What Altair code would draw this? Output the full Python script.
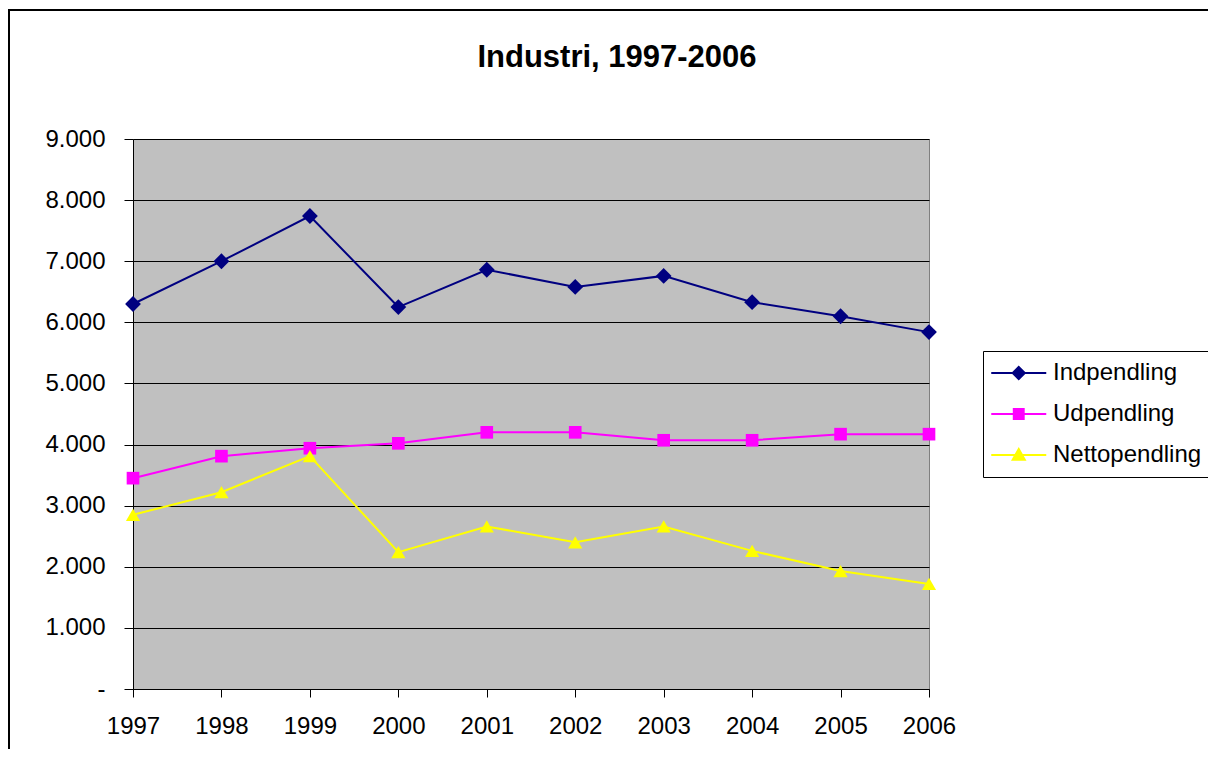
import altair as alt
import pandas as pd

years = ["1997", "1998", "1999", "2000", "2001", "2002", "2003", "2004", "2005", "2006"]
series_names = ["Indpendling", "Udpendling", "Nettopendling"]
indpendling = [6300, 7000, 7740, 6250, 6860, 6580, 6760, 6330, 6100, 5840]
udpendling = [3450, 3810, 3940, 4020, 4200, 4200, 4070, 4070, 4170, 4170]
nettopendling = [2850, 3220, 3810, 2240, 2660, 2400, 2660, 2260, 1930, 1720]
y_ticks = [0, 1000, 2000, 3000, 4000, 5000, 6000, 7000, 8000, 9000]

colors = ["#000080", "#FF00FF", "#FFFF00"]
shapes = ["diamond", "square", "triangle-up"]
marker_sizes = [250, 160, 200]
# legend symbols: a line segment with a marker on it
legend_paths = [
    "M-2.5,0H7.5M2.5,-1.1L3.6,0L2.5,1.1L1.4,0Z",
    "M-2.5,0H7.5M1.6,-0.9H3.4V0.9H1.6Z",
    "M-2.5,0H7.5M2.5,-1.1L3.6,0.85H1.4Z",
]

rows = []
for name, vals in zip(series_names, [indpendling, udpendling, nettopendling]):
    for yr, v in zip(years, vals):
        rows.append({"year": yr, "series": name, "value": v})
df = pd.DataFrame(rows)

FONT = "Liberation Sans"

x_enc = alt.X(
    "year:O",
    sort=years,
    scale=alt.Scale(type="point", padding=0),
    axis=alt.Axis(title=None, labelAngle=0, tickSize=8, labelPadding=17,
                  domainColor="black", tickColor="black", grid=False,
                  labelFont=FONT, labelFontSize=24, labelColor="black"),
)
y_enc = alt.Y(
    "value:Q",
    scale=alt.Scale(domain=[0, 9000], nice=False),
    axis=alt.Axis(
        title=None, values=y_ticks, tickSize=9, labelPadding=19,
        labelExpr="datum.value == 0 ? '-\u00a0\u00a0\u00a0' : replace(format(datum.value, ','), ',', '.')",
        grid=True, gridColor="black", gridWidth=1, gridOpacity=1,
        domainColor="black", tickColor="black",
        labelFont=FONT, labelFontSize=24, labelColor="black",
    ),
)

base = alt.Chart(df)

frame = alt.Chart(pd.DataFrame({"k": [0]})).mark_rect(
    fillOpacity=0, stroke="black", strokeWidth=2
).encode(
    x=alt.value(-124), x2=alt.value(1100), y=alt.value(-129), y2=alt.value(700)
)

line_layers = []
point_layers = []
for name, col, shp, sz in zip(series_names, colors, shapes, marker_sizes):
    sub = base.transform_filter(alt.datum.series == name)
    line_layers.append(
        sub.mark_line(strokeWidth=2, color=col).encode(x=x_enc, y=y_enc)
    )
    point_layers.append(
        sub.mark_point(filled=True, size=sz, opacity=1)
        .encode(x=x_enc, y=y_enc, shape=alt.value(shp), color=alt.value(col))
    )

leg = alt.Legend(
    title=None, orient="none", legendX=850, legendY=212,
    strokeColor="black", fillColor="white", padding=10,
    labelFont=FONT, labelFontSize=24, labelColor="black",
    symbolSize=121, symbolStrokeWidth=2, rowPadding=17, labelOffset=36,
)
legend_layer = base.transform_filter(alt.datum.year == "none").mark_point(
    filled=True, opacity=1, strokeWidth=2
).encode(
    x=x_enc, y=y_enc,
    fill=alt.Fill("series:N", sort=series_names,
                  scale=alt.Scale(domain=series_names, range=colors), legend=leg),
    stroke=alt.Stroke("series:N", sort=series_names,
                      scale=alt.Scale(domain=series_names, range=colors), legend=leg),
    shape=alt.Shape("series:N", sort=series_names,
                    scale=alt.Scale(domain=series_names, range=legend_paths), legend=leg),
)

chart = alt.layer(frame, *line_layers, *point_layers, legend_layer).properties(
    width=796, height=550,
    background="white",
    title=alt.TitleParams("Industri, 1997-2006", font=FONT, fontSize=31, fontWeight="bold",
                          anchor="middle", frame="group", dx=86, dy=89, offset=0,
                          baseline="alphabetic", color="black"),
    autosize=alt.AutoSizeParams(type="none"),
    padding={"left": 125, "top": 131, "right": 279, "bottom": 60},
).configure_view(
    fill="#C0C0C0", stroke="#808080", strokeWidth=1
)

chart.save("out.html", embed_options={"renderer": "svg", "actions": False})
